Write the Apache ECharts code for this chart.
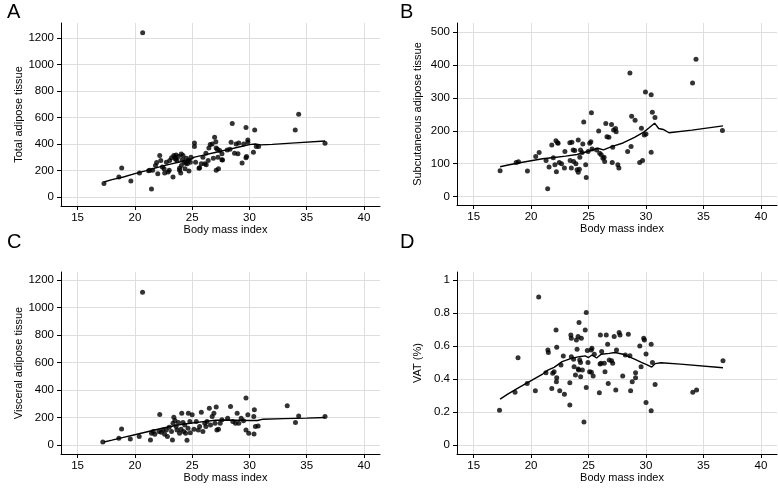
<!DOCTYPE html>
<html>
<head>
<meta charset="utf-8">
<script src="https://cdn.jsdelivr.net/npm/echarts@6.0.0/dist/echarts.min.js"></script>
<style>html,body{margin:0;padding:0;background:#fff}#c{width:778px;height:488px}</style>
</head>
<body>
<div id="c"></div>
<script>
// ---- data ----
const xTicks = [15, 20, 25, 30, 35, 40];
const yTicksTotal = [0, 200, 400, 600, 800, 1000, 1200];
const yTicksSub = [0, 100, 200, 300, 400, 500];
const yTicksVis = [0, 200, 400, 600, 800, 1000, 1200];
const yTicksPct = [0, 0.2, 0.4, 0.6, 0.8, 1];

const pointsTotal = [[17.3,100],[18.6,149],[18.85,218],[19.65,120],[20.4,180],[20.68,1242],[21.2,197],[21.45,58],[21.3,200],[21.55,200],[21.8,237],[21.9,260],[22.0,175],[22.17,312],[22.26,275],[22.4,225],[22.55,212],[22.6,180],[22.75,262],[22.9,187],[23.0,200],[23.04,275],[23.2,295],[23.33,150],[23.4,312],[23.5,300],[23.55,284],[23.6,317],[23.68,275],[23.8,305],[23.9,200],[23.9,215],[24.0,180],[24.05,324],[24.06,237],[24.15,280],[24.2,312],[24.3,262],[24.38,212],[24.45,253],[24.5,292],[24.58,250],[24.67,275],[24.72,195],[24.84,262],[24.9,300],[25.2,407],[25.2,380],[25.3,262],[25.6,215],[25.65,220],[25.8,250],[25.94,300],[26.1,250],[26.2,330],[26.23,242],[26.4,275],[26.46,370],[26.58,395],[26.75,400],[26.85,291],[26.96,450],[27.07,417],[27.1,370],[27.2,360],[27.25,300],[27.1,200],[27.3,212],[27.4,350],[27.6,280],[27.65,279],[27.6,325],[28.06,355],[28.3,360],[28.5,555],[28.4,412],[28.7,330],[28.84,400],[29.0,325],[29.07,407],[29.36,255],[29.5,400],[29.7,525],[29.7,295],[29.75,304],[29.86,412],[29.86,430],[30.35,337],[30.46,505],[30.6,380],[30.8,380],[34.0,505],[34.3,625],[36.6,405]];
const smoothTotal = [[17.3,112],[18,130],[19,150],[20,175],[21,198],[22,222],[23,245],[24,265],[24.8,280],[25.2,300],[26,315],[27,335],[28,355],[29,375],[30,395],[30.5,400],[31,393],[32,397],[34,408],[36.6,422]];

const pointsSub = [[17.3,79],[18.7,104],[18.9,106],[19.68,78],[20.4,122],[20.7,134],[21.3,110],[21.44,24],[21.56,90],[21.8,157],[21.93,118],[22.16,170],[22.3,164],[22.35,162],[22.07,97],[22.2,76],[22.45,104],[22.65,100],[22.94,137],[22.9,87],[23.37,164],[23.4,110],[23.5,87],[23.55,165],[23.66,142],[23.7,107],[23.8,140],[23.9,100],[24.1,172],[24.0,82],[24.1,74],[24.2,83],[24.24,120],[24.3,142],[24.44,134],[24.5,160],[24.58,227],[24.75,97],[24.8,58],[24.96,137],[25.1,162],[25.2,167],[25.25,255],[25.3,145],[25.7,142],[25.88,199],[25.97,132],[26.1,127],[26.25,117],[26.35,120],[26.4,107],[26.5,222],[26.6,182],[26.77,180],[27.0,219],[27.06,104],[27.1,150],[27.18,202],[27.35,207],[27.4,197],[27.55,97],[27.64,87],[28.4,137],[28.6,375],[28.75,244],[28.7,152],[29.05,232],[29.45,104],[29.7,110],[29.95,318],[29.85,187],[30.0,190],[29.6,208],[30.45,309],[30.55,256],[30.78,240],[30.45,135],[34.05,345],[34.35,417],[36.65,201]];
const smoothSub = [[17.3,91],[18,96],[19,103],[20,109],[21,115],[22,119],[23,123],[24,128],[25,138],[25.8,147],[26.3,142],[27,152],[28,163],[29,180],[29.8,196],[30.3,210],[30.75,223],[31.1,207],[31.5,204],[32,194],[34,202],[36.7,215]];

const pointsVis = [[17.2,22],[18.6,49],[18.84,117],[19.6,44],[20.38,61],[20.67,1113],[21.36,37],[21.45,85],[21.6,98],[21.74,78],[22.17,222],[22.1,98],[22.3,93],[22.46,110],[22.6,78],[22.75,110],[22.84,61],[22.99,129],[23.2,98],[23.28,37],[23.33,159],[23.4,202],[23.5,178],[23.6,134],[23.68,110],[23.8,163],[23.9,85],[24.03,115],[24.09,232],[24.2,163],[24.26,98],[24.35,146],[24.43,85],[24.55,35],[24.64,122],[24.67,232],[24.8,171],[24.84,90],[25.0,220],[25.16,115],[25.36,171],[25.54,110],[25.65,134],[25.8,239],[25.94,98],[26.1,159],[26.2,134],[26.3,171],[26.5,268],[26.6,146],[26.75,207],[26.9,232],[27.0,159],[27.1,276],[27.16,110],[27.3,115],[27.45,159],[27.6,183],[28.1,195],[28.35,281],[28.55,171],[28.78,159],[28.93,232],[29.07,159],[29.28,195],[29.48,176],[29.7,342],[29.7,110],[29.86,220],[29.94,85],[30.38,207],[30.43,256],[30.52,134],[30.4,80],[30.76,139],[33.3,285],[34.02,163],[34.3,212],[36.6,207]];
const smoothVis = [[17.3,22],[18,35],[19,55],[20,75],[21,95],[22,115],[23,133],[24,148],[25,160],[26,170],[27,180],[28,182],[29,180],[30,178],[30.7,178],[31.2,188],[33,192],[35,196],[36.6,200]];

const pointsPct = [[17.25,0.211],[18.6,0.319],[18.86,0.529],[19.66,0.373],[20.37,0.329],[20.66,0.896],[21.29,0.438],[21.46,0.576],[21.5,0.56],[21.8,0.343],[21.88,0.434],[22.0,0.444],[22.17,0.697],[22.23,0.592],[22.2,0.383],[22.23,0.408],[22.49,0.329],[22.6,0.485],[22.8,0.539],[22.9,0.308],[23.37,0.377],[23.37,0.242],[23.46,0.667],[23.5,0.647],[23.5,0.535],[23.7,0.52],[23.74,0.474],[23.86,0.424],[23.94,0.636],[24.0,0.58],[24.09,0.657],[24.1,0.46],[24.14,0.454],[24.17,0.742],[24.23,0.515],[24.3,0.5],[24.31,0.414],[24.37,0.647],[24.46,0.454],[24.6,0.14],[24.71,0.697],[24.8,0.802],[24.8,0.349],[24.89,0.572],[24.95,0.5],[25.09,0.444],[25.23,0.576],[25.25,0.44],[25.29,0.586],[25.4,0.418],[25.5,0.55],[25.94,0.317],[26.0,0.49],[26.03,0.667],[26.09,0.495],[26.14,0.566],[26.37,0.495],[26.43,0.444],[26.54,0.667],[26.66,0.61],[26.71,0.373],[26.8,0.515],[27.0,0.51],[27.1,0.495],[27.23,0.657],[27.37,0.333],[27.43,0.576],[27.66,0.681],[27.74,0.667],[27.97,0.418],[28.2,0.545],[28.46,0.671],[28.6,0.54],[28.66,0.329],[28.8,0.383],[29.09,0.438],[29.09,0.408],[29.46,0.6],[29.57,0.474],[29.8,0.647],[29.86,0.636],[30.0,0.258],[30.0,0.552],[30.45,0.61],[30.56,0.5],[30.79,0.366],[30.45,0.208],[34.07,0.319],[34.4,0.333],[36.7,0.51]];
const smoothPct = [[17.3,0.278],[18,0.31],[19,0.35],[20,0.39],[21,0.43],[21.5,0.455],[22,0.47],[22.7,0.505],[23.5,0.525],[24.2,0.535],[24.7,0.54],[25,0.53],[25.3,0.545],[25.7,0.527],[26.1,0.55],[26.8,0.555],[27.3,0.56],[28,0.55],[28.5,0.535],[29,0.52],[29.6,0.5],[30.1,0.485],[30.5,0.472],[30.8,0.493],[31.3,0.498],[33,0.49],[36.7,0.468]];

const panelLetters = ['A', 'B', 'C', 'D'];
const yNames = ['Total adipose tissue', 'Subcutaneous adipose tissue', 'Visceral adipose tissue', 'VAT (%)'];
const xName = 'Body mass index';

// ---- chart ----
const FONT = '"Liberation Sans", Arial, sans-serif';
const gridPos = [
  {left: 61, top: 23, width: 319, height: 183},
  {left: 457, top: 23, width: 320, height: 182},
  {left: 61, top: 272, width: 319, height: 182},
  {left: 457, top: 272, width: 320, height: 182}
];
const yRanges = [[-70, 1316], [-25.2, 527], [-65.6, 1260], [-0.0545, 1.048]];
const yTickSets = [yTicksTotal, yTicksSub, yTicksVis, yTicksPct];
const yNameGaps = [37, 34, 37, 34];
const pts = [pointsTotal, pointsSub, pointsVis, pointsPct];
const fits = [smoothTotal, smoothSub, smoothVis, smoothPct];

const gridLine = {show: true, lineStyle: {color: '#dedede', width: 1}};
const axisLine = {show: true, onZero: false, lineStyle: {color: '#000', width: 1}};
const fmt = v => String(v);

const option = {
  animation: false,
  backgroundColor: '#fff',
  title: panelLetters.map((t, i) => ({
    text: t, left: i % 2 === 0 ? 7 : 400, top: i < 2 ? 2 : 232, padding: 0,
    textStyle: {fontFamily: FONT, fontSize: 20, fontWeight: 'normal', color: '#000'}
  })),
  grid: gridPos,
  xAxis: gridPos.map((g, i) => ({
    type: 'value', gridIndex: i, min: 13.55, max: 41.4,
    name: xName, nameLocation: 'middle', nameGap: 18,
    nameTextStyle: {fontFamily: FONT, fontSize: 11, color: '#000', padding: [0, 0, 0, 10]},
    axisLine: axisLine,
    axisTick: {show: true, length: 4, customValues: xTicks, lineStyle: {color: '#000'}},
    axisLabel: {customValues: xTicks, formatter: fmt, fontFamily: FONT, fontSize: 11.5, color: '#000', margin: 6},
    splitLine: gridLine
  })),
  yAxis: gridPos.map((g, i) => ({
    type: 'value', gridIndex: i, min: yRanges[i][0], max: yRanges[i][1],
    name: yNames[i], nameLocation: 'middle', nameGap: yNameGaps[i],
    nameTextStyle: {fontFamily: FONT, fontSize: 11, color: '#000'},
    axisLine: axisLine,
    axisTick: {show: true, length: 4, customValues: yTickSets[i], lineStyle: {color: '#000'}},
    axisLabel: {customValues: yTickSets[i], formatter: fmt, fontFamily: FONT, fontSize: 11.5, color: '#000', margin: 7},
    splitLine: gridLine
  })),
  series: []
};
for (let i = 0; i < 4; i++) {
  option.series.push({
    type: 'scatter', xAxisIndex: i, yAxisIndex: i, data: pts[i],
    symbol: 'circle', symbolSize: 5, itemStyle: {color: '#000'}, z: 3
  });
  option.series.push({
    type: 'line', xAxisIndex: i, yAxisIndex: i, data: fits[i],
    showSymbol: false, symbol: 'none', lineStyle: {color: '#000', width: 1.4}, z: 4
  });
}
const chart = echarts.init(document.getElementById('c'), null, {renderer: 'canvas'});
chart.setOption(option);
</script>
</body>
</html>
